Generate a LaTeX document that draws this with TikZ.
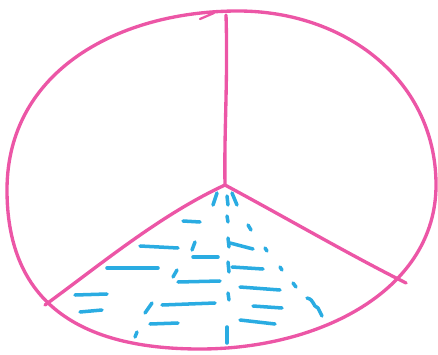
\documentclass[tikz,border=0pt]{standalone}
\usepackage{xcolor}
\definecolor{penpink}{RGB}{236,86,166}
\definecolor{penblue}{RGB}{42,172,226}

\begin{document}
\begin{tikzpicture}[x=0.02cm, y=-0.02cm, line cap=round, line join=round,
    rim/.style={draw=penpink, line width=1.9pt},
    hatch/.style={draw=penblue, line width=2pt}]
  \useasboundingbox (0,0) rectangle (438,354);
  \coordinate (centre) at (225,185);
  \coordinate (top) at (226,15);
  \coordinate (left) at (45,305);
  \coordinate (right) at (406,283);
  % outline of the pie
  \draw[rim] (238,11) .. controls (345,11) and (436,80) .. (436,185)
    .. controls (436,290) and (320,349) .. (200,349)
    .. controls (70,349) and (7,295) .. (7,190)
    .. controls (7,70) and (120,11) .. cycle;
  \draw[rim, line width=1.3pt] (200,19) -- (214,13);
  % the three radii
  \draw[rim] (top) .. controls (228,80) and (224,130) .. (centre);
  \draw[rim] (centre) .. controls (160,215) and (100,265) .. (left);
  \draw[rim] (centre) .. controls (290,220) and (350,255) .. (right);
  % blue strokes in the lower slice
  \foreach \p/\q/\r/\s in {183/221/200/222, 140/246/178/248, 193/257/218/257, 107/268/158/268,
      178/282/220/281, 75/295/107/294, 80/312/102/310, 162/305/215/303, 150/324/178/323,
      230/243/253/249, 232/267/263/269, 240/287/280/290, 253/306/282/308, 240/320/275/324}
    {\draw[hatch] (\p,\q) -- (\r,\s);}
  \foreach \p/\q/\r/\s in {192/250/195/242, 173/277/177/270, 145/313/152/303, 135/337/137/332,
      213/205/217/193, 227/196/228/205, 227/216/228/222, 228/262/229/272, 228/293/229/300,
      227/327/227/343, 232/193/237/205, 248/225/251/230, 265/248/267/251, 280/267/282/270,
      293/283/296/287}
    {\draw[hatch] (\p,\q) -- (\r,\s);}
  \draw[hatch] (228,238) -- (229,247);
  \draw[hatch] (307,298) .. controls (315,300) and (312,306) .. (318,308) -- (322,316);
\end{tikzpicture}
\end{document}
